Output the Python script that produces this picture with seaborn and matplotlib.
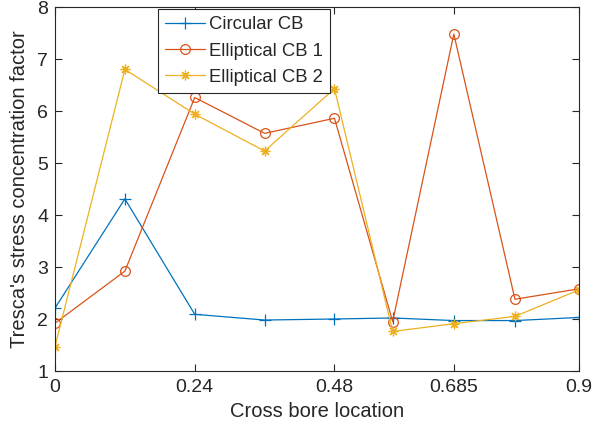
import matplotlib
matplotlib.use("Agg")
import matplotlib.pyplot as plt
import pandas as pd
import seaborn as sns

sns.set_theme(style="ticks")
plt.rcParams["font.family"] = ["Liberation Sans", "DejaVu Sans"]

location = [0, 0.12, 0.24, 0.36, 0.48, 0.58, 0.685, 0.79, 0.9]
circular_cb = [2.21, 4.31, 2.09, 1.98, 2.0, 2.02, 1.97, 1.97, 2.03]
elliptical_cb1 = [1.92, 2.92, 6.26, 5.57, 5.86, 1.95, 7.48, 2.38, 2.58]
elliptical_cb2 = [1.47, 6.80, 5.94, 5.23, 6.43, 1.76, 1.91, 2.05, 2.56]
xtick_values = [0, 0.24, 0.48, 0.685, 0.9]
xtick_labels = ["0", "0.24", "0.48", "0.685", "0.9"]

# MATLAB-style asterisk: 8 spokes
asterisk = (8, 2, 0)
series = [
    ("Circular CB", circular_cb, "#0072BD", "+", 8),
    ("Elliptical CB 1", elliptical_cb1, "#D95319", "o", 7),
    ("Elliptical CB 2", elliptical_cb2, "#EDB120", asterisk, 7),
]

fig = plt.figure(figsize=(6.02, 4.32), dpi=100)
ax = fig.add_axes([55 / 602, 1 - 371 / 432, 524 / 602, 364 / 432])

for name, values, color, marker, msize in series:
    df = pd.DataFrame({"x": location, "y": values})
    sns.lineplot(
        data=df, x="x", y="y", ax=ax, color=color, label=name,
        marker=marker, markersize=msize,
        markerfacecolor="none" if marker == "o" else color,
        markeredgecolor=color, markeredgewidth=0.9, linewidth=0.9,
    )

ax.set_xlim(0, 0.9)
ax.set_ylim(1, 8)
ax.set_xticks(xtick_values)
ax.set_xticklabels(xtick_labels)
ax.set_yticks(range(1, 9))
ax.tick_params(direction="in", top=True, right=True, labelsize=14,
               color="#262626", labelcolor="#262626", length=5, width=0.8)
ax.tick_params(axis="x", pad=6)
ax.tick_params(axis="y", pad=5)
for spine in ax.spines.values():
    spine.set_visible(True)
    spine.set_color("#262626")
    spine.set_linewidth(0.8)
ax.set_xlabel("Cross bore location", fontsize=14.5, color="#262626", labelpad=4)
ax.set_ylabel("Tresca's stress concentration factor", fontsize=14.5,
              color="#262626", labelpad=6)

leg = ax.legend(loc="upper left", bbox_to_anchor=(158 / 602, 1 - 9 / 432),
                bbox_transform=fig.transFigure, borderaxespad=0, fontsize=13.3,
                fancybox=False, framealpha=1, edgecolor="#262626",
                handlelength=2.15, handletextpad=0.2, labelspacing=0.5,
                borderpad=0.4)
leg.get_frame().set_linewidth(0.8)

fig.savefig("out.png", dpi=100)
